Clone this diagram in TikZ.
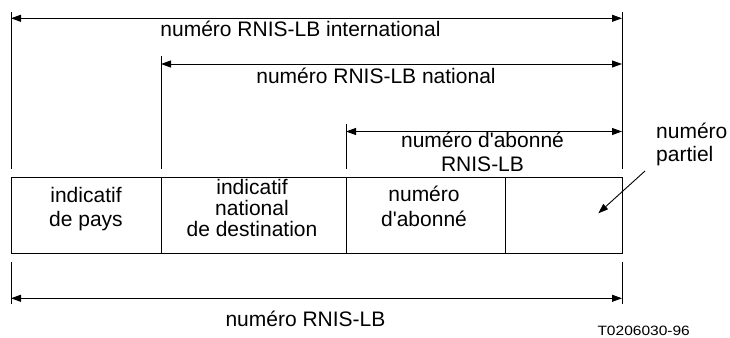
\documentclass[tikz,border=0pt]{standalone}
\usepackage{fontspec}
\setmainfont{Liberation Sans}
\newfontfamily\tagfont[FakeStretch=1.15]{Liberation Sans}
\usetikzlibrary{arrows.meta}
\newcommand\cellstack[2][c]{\begin{tabular}[t]{@{}#1@{}}#2\end{tabular}}
\newcommand\apos{\textquotesingle}
\begin{document}
\begin{tikzpicture}[x=1pt,y=-1pt,
  tickline/.style={line width=0.9pt},
  dimline/.style={line width=0.9pt,{Triangle[length=10pt,width=7pt]}-{Triangle[length=10pt,width=7pt]}},
  ptrline/.style={line width=0.9pt,-{Triangle[length=10pt,width=7pt]}},
  cellbox/.style={draw,line width=1.2pt,minimum height=76pt,inner sep=0pt,anchor=north west},
  lbl/.style={inner sep=0pt,anchor=base,font=\fontsize{21}{24}\selectfont},
]
\useasboundingbox (0,0) rectangle (730,337);

% cells of the number
\node[cellbox,minimum width=150pt] (c1) at (11,177) {};
\node[cellbox,minimum width=185pt] (c2) at (161,177) {};
\node[cellbox,minimum width=159pt] (c3) at (346,177) {};
\node[cellbox,minimum width=117pt] (c4) at (505,177) {};

% cell texts
\node[lbl,font=\fontsize{21}{24}\selectfont] (t1) at (86,202.7) {\cellstack{indicatif\\de pays}};
\node[lbl,font=\fontsize{21}{20}\selectfont] (t2) at (252,194) {\cellstack{indicatif\\national\\de destination}};
\node[lbl,font=\fontsize{21}{25}\selectfont] (t3) at (424,201.7) {\cellstack{numéro\\d\apos abonné}};

% extension lines above
\coordinate (a1) at (11,12.5);   \coordinate (a2) at (11,169);
\coordinate (b1) at (161,56.5);  \coordinate (b2) at (161,169);
\coordinate (d1) at (346,124);   \coordinate (d2) at (346,169);
\coordinate (e1) at (622,12.5);  \coordinate (e2) at (622,169);
\draw[tickline] (a1) -- (a2);
\draw[tickline] (b1) -- (b2);
\draw[tickline] (d1) -- (d2);
\draw[tickline] (e1) -- (e2);

% dimension arrows above
\coordinate (iL) at (11,18.3);   \coordinate (iR) at (622,18.3);
\coordinate (nL) at (161,64);    \coordinate (nR) at (622,64);
\coordinate (sL) at (346,131.5); \coordinate (sR) at (622,131.5);
\draw[dimline] (iL) -- (iR);
\draw[dimline] (nL) -- (nR);
\draw[dimline] (sL) -- (sR);

\node[lbl] (lint) at (300.5,36.7) {numéro RNIS-LB international};
\node[lbl] (lnat) at (376,83.3) {numéro RNIS-LB national};
\node[lbl,font=\fontsize{21}{24.5}\selectfont] (labo) at (482.5,147) {\cellstack{numéro d\apos abonné\\RNIS-LB}};

% partial number
\node[lbl,anchor=base west,font=\fontsize{21}{23.2}\selectfont] (lpart) at (656,138.5) {\cellstack[l]{numéro\\partiel}};
\coordinate (pA) at (645,171);
\coordinate (pB) at (598.3,213.3);
\draw[ptrline] (pA) -- (pB);

% extension lines and arrow below
\coordinate (f1) at (11,261.5);  \coordinate (f2) at (11,304);
\coordinate (g1) at (622,261.5); \coordinate (g2) at (622,304);
\draw[tickline] (f1) -- (f2);
\draw[tickline] (g1) -- (g2);
\coordinate (bL) at (11,298.3);  \coordinate (bR) at (622,298.3);
\draw[dimline] (bL) -- (bR);
\node[lbl] (lall) at (305.5,326.7) {numéro RNIS-LB};

% figure tag
\node[inner sep=0pt,anchor=base west,font=\tagfont\fontsize{13.5}{15}\selectfont] (tag) at (597.3,335) {T0206030-96};
\end{tikzpicture}
\end{document}
